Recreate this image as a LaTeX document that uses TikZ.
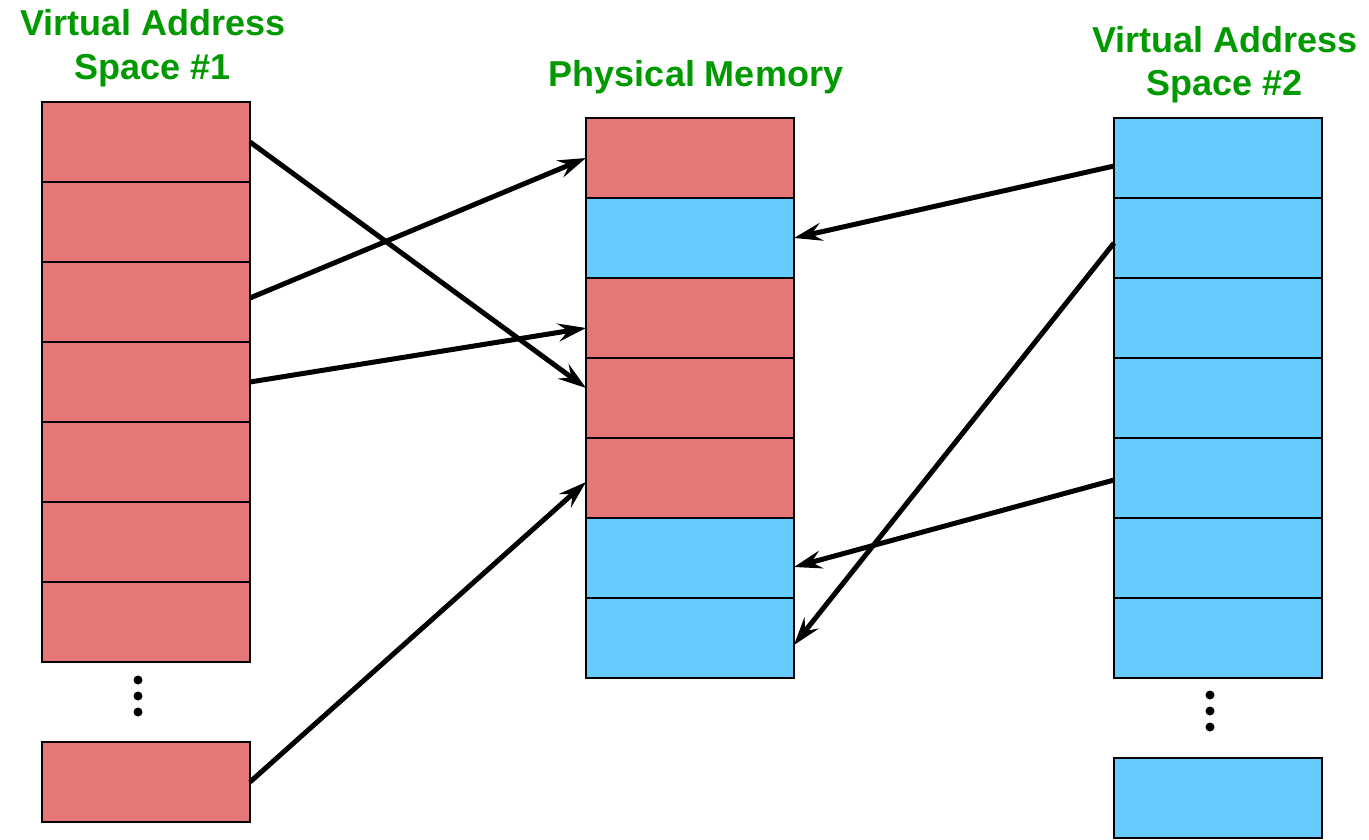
\documentclass[tikz,border=0pt]{standalone}
\usepackage{fontspec}
\setmainfont{Liberation Sans}
\usetikzlibrary{arrows.meta}
\definecolor{pgred}{HTML}{E67777}
\definecolor{pgblue}{HTML}{66CCFF}
\definecolor{ttlgreen}{HTML}{009A00}
\begin{document}
\begin{tikzpicture}[x=1pt,y=-1pt,
  cell/.style={draw=black,line width=2.5pt,minimum width=208pt,minimum height=80pt,anchor=north west,outer sep=0pt,inner sep=0pt},
  redcell/.style={cell,fill=pgred},
  bluecell/.style={cell,fill=pgblue},
  ttl/.style={text=ttlgreen,font=\fontsize{36}{43}\selectfont\bfseries,anchor=base,inner sep=0pt},
  link/.style={line width=5pt,-{Stealth[length=28pt,width=18pt,inset=10pt]}},
  dotmark/.style={circle,fill=black,inner sep=0pt,minimum size=9pt}]
\useasboundingbox (0,0) rectangle (1369,839);
% titles
\node[ttl] (t1a) at (153,35) {Virtual Address};
\node[ttl] (t1b) at (153,79) {Space \#1};
\node[ttl] (tp) at (696,86) {Physical Memory};
\node[ttl] (t2a) at (1225,52) {Virtual Address};
\node[ttl] (t2b) at (1225,95) {Space \#2};
% left column
\foreach \i in {0,...,6} {\node[redcell] (L\i) at (42,102+80*\i) {};}
\node[redcell] (Lb) at (42,742) {};
\node[dotmark] (ld1) at (138,680) {};
\node[dotmark] (ld2) at (138,696) {};
\node[dotmark] (ld3) at (138,712) {};
% middle column
\node[redcell] (M0) at (586,118) {};
\node[bluecell] (M1) at (586,198) {};
\node[redcell] (M2) at (586,278) {};
\node[redcell] (M3) at (586,358) {};
\node[redcell] (M4) at (586,438) {};
\node[bluecell] (M5) at (586,518) {};
\node[bluecell] (M6) at (586,598) {};
% right column
\foreach \i in {0,...,6} {\node[bluecell] (R\i) at (1114,118+80*\i) {};}
\node[bluecell] (Rb) at (1114,758) {};
\node[dotmark] (rd1) at (1210,695) {};
\node[dotmark] (rd2) at (1210,711) {};
\node[dotmark] (rd3) at (1210,727) {};
% connectors left -> middle
\draw[link] (L0.east) -- ([yshift=10pt]M3.west);
\draw[link] ([yshift=4pt]L2.east) -- (M0.west);
\draw[link] (L3.east) -- ([yshift=-10pt]M2.west);
\draw[link] (Lb.east) -- ([yshift=-4pt]M4.west);
% connectors right -> middle
\draw[link] ([yshift=-8pt]R0.west) -- (M1.east);
\draw[link] ([yshift=-5pt]R1.west) -- ([yshift=-7pt]M6.east);
\draw[link] ([yshift=-2pt]R4.west) -- ([yshift=-9pt]M5.east);
\end{tikzpicture}
\end{document}
